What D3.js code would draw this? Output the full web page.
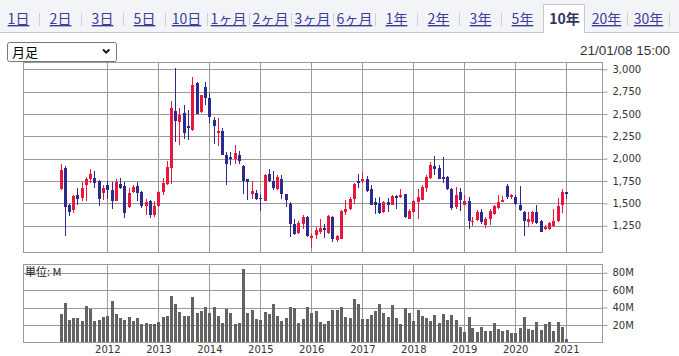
<!DOCTYPE html>
<html><head><meta charset="utf-8">
<script src="https://cdn.jsdelivr.net/npm/d3@7"></script>
<style>html,body{margin:0;padding:0;background:#fff;overflow:hidden}</style>
</head><body><svg id="c" width="679" height="356"></svg>
<script>
const tabs = ["1日","2日","3日","5日","10日","1ヶ月","2ヶ月","3ヶ月","6ヶ月","1年","2年","3年","5年","10年","20年","30年"];
const activeTab = "10年";
const periodLabel = "月足";
const stampText = "21/01/08 15:00";
const volUnitLabel = "単位: M";
const firstMonth = [2011, 1]; // Feb 2011, monthly candles
const open = [1659,1900,1484,1421,1588,1559,1700,1774,1781,1755,1614,1700,1644,1529,1715,1689,1455,1625,1689,1622,1466,1521,1365,1466,1622,1715,1893,2536,2413,2506,
2360,2316,2847,2522,2802,2679,2428,2290,2309,2044,2018,1992,2036,1917,1768,1607,1615,1562,1525,1824,1749,1656,1775,1600,1495,1271,1170,1264,1346,1110,
1148,1178,1226,1170,1346,1085,1103,1402,1439,1544,1745,1745,1775,1663,1514,1503,1402,1514,1484,1581,1570,1600,1327,1402,1514,1540,1671,1783,1913,1895,
1794,1794,1656,1458,1626,1484,1521,1290,1309,1402,1260,1327,1383,1450,1521,1693,1577,1570,1477,1402,1290,1290,1402,1297,1208,1215,1245,1297,1484,1626];
const high = [1937,1919,1492,1596,1670,1737,1800,1882,1863,1763,1700,1755,1737,1774,1789,1737,1670,1700,1737,1633,1551,1540,1522,1633,1781,1975,2643,3019,2562,2600,
2540,2914,2858,2716,2858,2738,2466,2455,2346,2074,2074,2156,2081,1925,1775,1749,1645,1607,1824,1880,1857,1813,1813,1607,1514,1327,1297,1365,1357,1160,
1234,1327,1271,1372,1353,1141,1421,1532,1570,1730,1831,1850,1805,1708,1559,1570,1521,1559,1596,1596,1656,1607,1432,1532,1663,1701,1813,1962,2025,1930,
2018,1805,1671,1682,1671,1589,1570,1346,1421,1439,1346,1439,1484,1589,1581,1715,1603,1589,1693,1409,1402,1409,1477,1309,1253,1290,1439,1559,1663,1626];
const low = [1651,1139,1354,1391,1484,1529,1529,1726,1677,1466,1540,1547,1436,1522,1659,1336,1447,1614,1522,1447,1365,1336,1343,1458,1596,1707,1715,2190,2153,2220,
2210,2309,2496,2514,2597,2402,2167,2137,2036,1708,1925,1943,1943,1607,1533,1551,1533,1409,1521,1738,1645,1645,1551,1458,1122,1141,1159,1215,1122,1000,
1103,1159,1114,1159,1073,1066,1096,1365,1421,1495,1671,1730,1626,1477,1383,1383,1395,1402,1477,1439,1559,1335,1320,1395,1327,1533,1626,1775,1813,1768,
1730,1645,1421,1439,1409,1477,1208,1245,1297,1271,1226,1253,1365,1439,1514,1551,1551,1484,1413,1133,1234,1271,1271,1178,1197,1197,1234,1290,1395,1551];
const close = [1874,1455,1403,1577,1547,1670,1774,1830,1726,1547,1670,1644,1529,1744,1670,1391,1614,1678,1614,1473,1510,1365,1466,1622,1726,1911,2562,2420,2487,2283,
2340,2828,2503,2708,2679,2466,2365,2309,2044,1943,1992,2066,1969,1749,1738,1633,1551,1544,1820,1745,1671,1794,1607,1540,1271,1159,1279,1342,1133,1135,
1197,1226,1197,1357,1096,1133,1409,1439,1551,1719,1730,1775,1633,1484,1484,1395,1514,1484,1581,1566,1596,1346,1409,1521,1570,1682,1794,1932,1887,1775,
1775,1663,1447,1596,1533,1521,1297,1305,1402,1290,1327,1409,1469,1514,1533,1570,1589,1495,1421,1297,1320,1402,1283,1185,1234,1279,1297,1469,1626,1600];
const volume = [32.5,45,25.6,27.9,27.9,24.4,41.7,38.3,24.4,25.6,29,30,47.4,32.5,27.9,25.6,29,24.4,27.9,21,22,21,21,23.3,29,30,53,44,34.9,30,
30,52,33.7,36,40.6,33.7,40.6,30,22,38.3,33.7,21,22,84.2,33.7,36.8,26.7,25.6,34.9,32.5,44,30,24.4,27.9,40.6,39.5,22,26.7,40.6,33.7,
36,23.3,21,24.4,36.8,36.8,40.6,29,27.9,50,44,26.7,26.7,31,36,44,33.7,29,42.9,27.9,21,39.5,33.7,24.4,36.8,30,27.9,24.4,31,22,
32.5,25.6,31,25.6,17.6,11.9,29,16.5,11.9,17.6,13,13,22,15.3,13,14.2,10.7,10.7,16.5,29,15.3,14.2,23.3,14.2,21,23.3,13,23.3,17.6,4.2];
const priceTicks = [1250,1500,1750,2000,2250,2500,2750,3000];
const volumeTicks = [20,40,60,80];
const yearTicks = [2012,2013,2014,2015,2016,2017,2018,2019,2020,2021];

const data = open.map((o,i)=>({date:new Date(firstMonth[0], firstMonth[1]+i, 1), o, h:high[i], l:low[i], c:close[i], v:volume[i]}));

const svg = d3.select("#c");
const L = 23.5, R = 602.5;
const P = {top:62.5, bottom:252.5};
const V = {top:264.5, bottom:342.5};
const grid = "#9a9a9a";
const cr = v => Math.round(v) + 0.5;

const x = d3.scaleTime().domain([new Date(2012,0,1), new Date(2021,0,1)]).range([107.3, 566.3]);
const yP = d3.scaleLinear().domain([1250,3000]).range([225.7,69.3]);
const yV = d3.scaleLinear().domain([0,80]).range([342.3,272.7]);

// ---- tab bar
svg.append("rect").attr("x",0).attr("y",0).attr("width",679).attr("height",33).attr("fill","#f3f4f8");
svg.append("line").attr("x1",0).attr("x2",679).attr("y1",32.5).attr("y2",32.5).attr("stroke","#c8c8c8");
const tb = d3.scaleBand().domain(tabs).range([-3,669]);
const ai = tabs.indexOf(activeTab);
svg.append("path").attr("d",`M${cr(tb(activeTab))},33V4.5H${cr(tb(activeTab)+tb.bandwidth())-1}V33`)
  .attr("fill","#fff").attr("stroke","#c8c8c8");
tabs.forEach((t,i)=>{
  if (i !== ai && i !== ai-1) {
    const sx = cr(tb(t)+tb.bandwidth());
    svg.append("line").attr("x1",sx).attr("x2",sx).attr("y1",13).attr("y2",26).attr("stroke","#d0d0d0");
  }
});
svg.append("g").selectAll("text").data(tabs).join("text")
  .attr("x",d=>tb(d)+tb.bandwidth()/2+0.5).attr("y",24)
  .attr("text-anchor","middle")
  .attr("font-family","'Noto Sans CJK JP', sans-serif").attr("font-size",14)
  .attr("font-weight",d=>d===activeTab?"bold":"normal")
  .attr("fill",d=>d===activeTab?"#333366":"#3c3c9a")
  .attr("text-decoration",d=>d===activeTab?"none":"underline")
  .text(d=>d);

// ---- dropdown
svg.append("rect").attr("x",7.5).attr("y",42.5).attr("width",109).attr("height",19).attr("rx",2)
  .attr("fill","#fff").attr("stroke","#767676");
svg.append("text").attr("x",12).attr("y",57).attr("font-family","'Noto Sans CJK JP', sans-serif")
  .attr("font-size",13).attr("fill","#000").text(periodLabel);
svg.append("path").attr("d","M103,49.5L106.2,52.7L109.4,49.5").attr("fill","none").attr("stroke","#111").attr("stroke-width",1.8);

// ---- date stamp
svg.append("text").attr("x",670).attr("y",55).attr("text-anchor","end")
  .attr("font-family","'Liberation Sans', Arial, sans-serif").attr("font-size",13.5).attr("fill","#333").text(stampText);

// ---- grids & frames
function panel(top,bottom){
  const g = svg.append("g");
  g.selectAll("line.v").data(yearTicks).join("line")
    .attr("x1",d=>cr(x(new Date(d,0,1)))).attr("x2",d=>cr(x(new Date(d,0,1))))
    .attr("y1",top).attr("y2",bottom).attr("stroke",grid);
  g.append("rect").attr("x",L).attr("y",top).attr("width",R-L).attr("height",bottom-top)
    .attr("fill","none").attr("stroke",grid);
  return g;
}
const gp = panel(P.top,P.bottom);
gp.selectAll("line.h").data(priceTicks).join("line")
  .attr("x1",L).attr("x2",R).attr("y1",d=>cr(yP(d))).attr("y2",d=>cr(yP(d))).attr("stroke",grid);
const gv = panel(V.top,V.bottom);
gv.selectAll("line.h").data(volumeTicks).join("line")
  .attr("x1",L).attr("x2",R).attr("y1",d=>cr(yV(d))).attr("y2",d=>cr(yV(d))).attr("stroke",grid);

// ---- axes
const axisFont = "'DejaVu Sans', Verdana, sans-serif";
function styleAxis(g){
  g.select(".domain").remove();
  g.selectAll(".tick line").attr("stroke",grid);
  g.selectAll(".tick text").attr("fill","#333").attr("font-family",axisFont).attr("font-size",10);
}
svg.append("g").attr("transform",`translate(${R},0)`)
  .call(d3.axisRight(yP).tickValues(priceTicks).tickFormat(d3.format(",")).tickSize(5).tickPadding(5).offset(0.5))
  .call(styleAxis);
svg.append("g").attr("transform",`translate(${R},0)`)
  .call(d3.axisRight(yV).tickValues(volumeTicks).tickFormat(d=>d+"M").tickSize(5).tickPadding(5).offset(0.5))
  .call(styleAxis);
svg.append("g").attr("transform",`translate(0,342.3)`)
  .call(d3.axisBottom(x).tickValues(yearTicks.map(y=>new Date(y,0,1))).tickFormat(d3.timeFormat("%Y")).tickSize(0).tickPadding(4))
  .call(styleAxis);

svg.append("text").attr("x",25).attr("y",276).attr("font-family","'Noto Sans CJK JP', sans-serif")
  .attr("font-size",11).attr("fill","#222").text(volUnitLabel);

// ---- candles
const up = "#e8173f", down = "#2d2a8e";
const cg = svg.append("g").attr("shape-rendering","crispEdges");
cg.selectAll("line.w").data(data).join("line")
  .attr("x1",d=>cr(x(d.date))).attr("x2",d=>cr(x(d.date)))
  .attr("y1",d=>yP(d.h)).attr("y2",d=>yP(d.l))
  .attr("stroke",d=>d.c>=d.o?up:down).attr("stroke-width",1);
cg.selectAll("rect.b").data(data).join("rect")
  .attr("x",d=>Math.round(x(d.date))-1).attr("width",3)
  .attr("y",d=>yP(Math.max(d.o,d.c)))
  .attr("height",d=>Math.max(1.5, Math.abs(yP(d.o)-yP(d.c))))
  .attr("fill",d=>d.c>=d.o?up:down);

// ---- volume bars
svg.append("g").attr("shape-rendering","crispEdges").selectAll("rect").data(data).join("rect")
  .attr("x",d=>Math.round(x(d.date))-1).attr("width",3)
  .attr("y",d=>yV(d.v)).attr("height",d=>yV(0)-yV(d.v))
  .attr("fill","#636363");
</script></body></html>
